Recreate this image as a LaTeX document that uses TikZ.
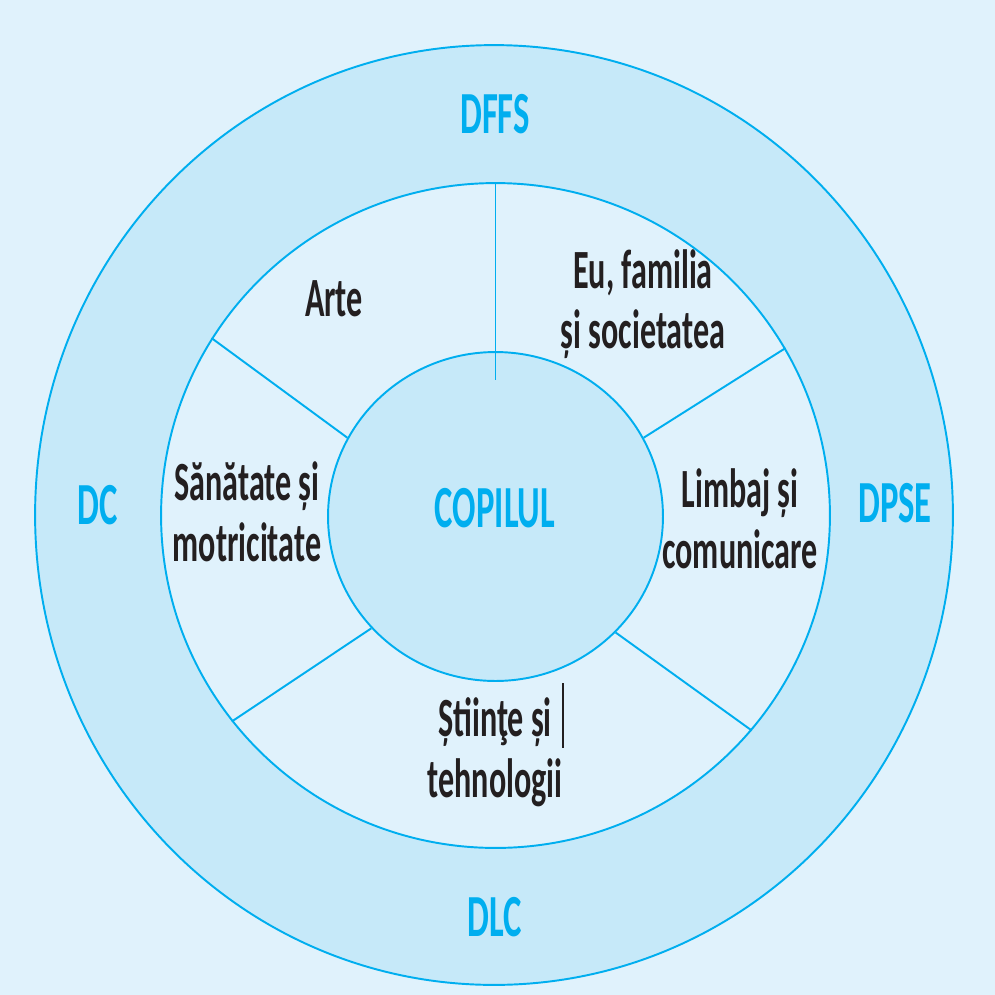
\documentclass[tikz,border=0pt]{standalone}
\usepackage{fontspec}
\setmainfont{Carlito}[FakeStretch=0.58]
\usetikzlibrary{shapes.geometric}
\definecolor{bgblue}{RGB}{224,242,252}
\definecolor{ringblue}{RGB}{198,233,249}
\definecolor{lineblue}{RGB}{0,174,239}
\definecolor{inkblack}{RGB}{35,31,32}

\begin{document}
\begin{tikzpicture}[x=0.02cm,y=-0.02cm]
  \tikzset{ zone/.style={draw=lineblue, line width=1.1pt, ellipse, inner sep=0pt},
            spoke/.style={draw=lineblue, line width=1.1pt},
            dom/.style={text=lineblue, font=\bfseries\fontsize{34}{36}\selectfont},
            area/.style={text=inkblack, align=center, font=\bfseries\fontsize{31.5}{34.5}\selectfont} };
  \fill[bgblue] (0,0) rectangle (995,995);
  \useasboundingbox (0,0) rectangle (995,995);
  % the three rings
  \node[zone, fill=ringblue, minimum width=18.36cm, minimum height=18.8cm] (outer) at (494,515) {};
  \node[zone, fill=bgblue, minimum width=13.38cm, minimum height=13.3cm] (ring) at (495.5,515.5) {};
  \node[zone, fill=ringblue, minimum width=6.7cm, minimum height=6.58cm] (core) at (495.5,516.5) {};
  % dividers
  \coordinate (stem) at (497,380);
  \draw[spoke] (ring.north) -- (ring.north |- stem);
  \draw[spoke] (ring.148) -- (core.152);
  \draw[spoke] (ring.30) -- (core.28);
  \draw[spoke] (ring.218) -- (core.222);
  \draw[spoke] (ring.320) -- (core.316);
  % domains
  \node[dom] (dffs) at (495,114) {DFFS};
  \node[dom] (dc) at (98,505) {DC};
  \node[dom] (dpse) at (895,503) {DPSE};
  \node[dom] (dlc) at (495,917) {DLC};
  \node[dom] (copil) at (495,508) {COPILUL};
  % areas
  \node[area] (arte) at (334,299) {Arte};
  \node[area] (eu) at (643,304) {Eu, familia\\și societatea};
  \node[area] (sanatate) at (247,512) {Sănătate și\\motricitate};
  \node[area] (limbaj) at (740,519) {Limbaj și\\comunicare};
  \node[area] (stiinte) at (495,752) {Știinţe și\\tehnologii};
  \coordinate (barTop) at (563,683);
  \coordinate (barBot) at (563,748);
  \draw[inkblack, line width=0.7pt] (barTop) -- (barBot);
\end{tikzpicture}
\end{document}
